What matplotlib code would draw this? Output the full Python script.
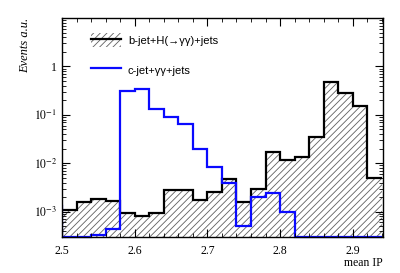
import numpy as np
import matplotlib.pyplot as plt
from matplotlib.patches import Patch, Rectangle
from matplotlib.lines import Line2D
from matplotlib.ticker import MultipleLocator, LogLocator, FixedLocator

plt.rcParams['font.family'] = ['Liberation Serif', 'DejaVu Serif']
plt.rcParams['mathtext.fontset'] = 'stix'
plt.rcParams['hatch.linewidth'] = 0.6

# bin edges of mean IP (0.02 wide), plus one underflow bin for the blue curve
edges = np.round(np.arange(2.48, 2.9401, 0.02), 3)

# b-jet + H(->yy) + jets (bins from 2.50 to 2.94)
bjet = [1.1e-3, 1.55e-3, 1.85e-3, 1.66e-3, 0.95e-3, 0.83e-3, 0.92e-3, 2.74e-3,
        2.74e-3, 1.74e-3, 2.57e-3, 4.8e-3, 1.55e-3, 2.87e-3, 1.68e-2, 1.19e-2,
        1.33e-2, 3.47e-2, 0.47, 0.28, 0.15, 5.07e-3]
# c-jet + yy + jets (first entry is the underflow bin below 2.50)
cjet = [1.3e-3, 3e-4, 3e-4, 3.3e-4, 4.4e-4, 0.307, 0.337, 0.133, 0.09, 0.065,
        0.0198, 8.3e-3, 3.9e-3, 5e-4, 1.97e-3, 2.38e-3, 0.98e-3,
        3e-4, 3e-4, 3e-4, 3e-4, 3e-4, 3e-4]

label_b = "b-jet+H(\u2192\u03b3\u03b3)+jets"
label_c = "c-jet+\u03b3\u03b3+jets"

ymin, ymax = 3e-4, 10
blue = '#0a0aff'
hatch_col = '#606060'

fig = plt.figure(figsize=(4.0, 2.73), dpi=100)
ax = fig.add_axes([0.155, 0.132, 0.8025, 0.802])

b_edges = edges[1:]
b_vals = np.append(bjet, bjet[-1])
ax.fill_between(b_edges, ymin * 0.5, b_vals, step='post', facecolor='none',
                edgecolor=hatch_col, hatch='/////', linewidth=0)
ax.stairs(bjet, b_edges, color='black', linewidth=1.6, baseline=None)

cl = ax.stairs(cjet, edges, color=blue, linewidth=1.6, baseline=None)
# let the blue line sit on the frame for empty bins (slightly larger clip box)
cl.set_clip_path(Rectangle((0, -0.02), 1, 1.04, transform=ax.transAxes))

ax.set_yscale('log')
ax.set_ylim(ymin, ymax)

ax.xaxis.set_major_locator(MultipleLocator(0.1))
ax.xaxis.set_minor_locator(MultipleLocator(0.02))
ax.yaxis.set_major_locator(FixedLocator([1e-3, 1e-2, 1e-1, 1]))
ax.yaxis.set_minor_locator(LogLocator(base=10, subs=np.arange(2, 10)))
ax.set_yticklabels([r'$10^{-3}$', r'$10^{-2}$', r'$10^{-1}$', '1'])
ax.set_xlim(2.5, 2.9415)
ax.set_xticks([2.5, 2.6, 2.7, 2.8, 2.9])
ax.set_xticklabels(['2.5', '2.6', '2.7', '2.8', '2.9'])
ax.set_xlim(2.5, 2.9415)
ax.tick_params(which='both', direction='in', top=True, right=True, labelsize=8.5)
ax.tick_params(which='major', length=6, width=0.8)
ax.tick_params(which='minor', length=3, width=0.6)
ax.tick_params(axis='x', pad=6)
for s in ax.spines.values():
    s.set_linewidth(1.0)

ax.set_ylabel('Events a.u.', style='italic', fontsize=9, loc='top', labelpad=2)
ax.set_xlabel('mean IP', fontsize=8.5, loc='right', labelpad=0)

h_b = (Patch(facecolor='none', edgecolor=hatch_col, hatch='/////', linewidth=0),
       Line2D([], [], color='black', linewidth=1.6))
h_c = Line2D([], [], color=blue, linewidth=1.6)
ax.legend([h_b, h_c], [label_b, label_c], loc='upper left',
          bbox_to_anchor=(0.06, 0.975), frameon=False, labelspacing=1.45,
          handlelength=2.7, handleheight=1.5, handletextpad=0.6,
          prop={'family': ['Liberation Sans', 'DejaVu Sans'], 'size': 8})

fig.savefig('out.png', dpi=100)
